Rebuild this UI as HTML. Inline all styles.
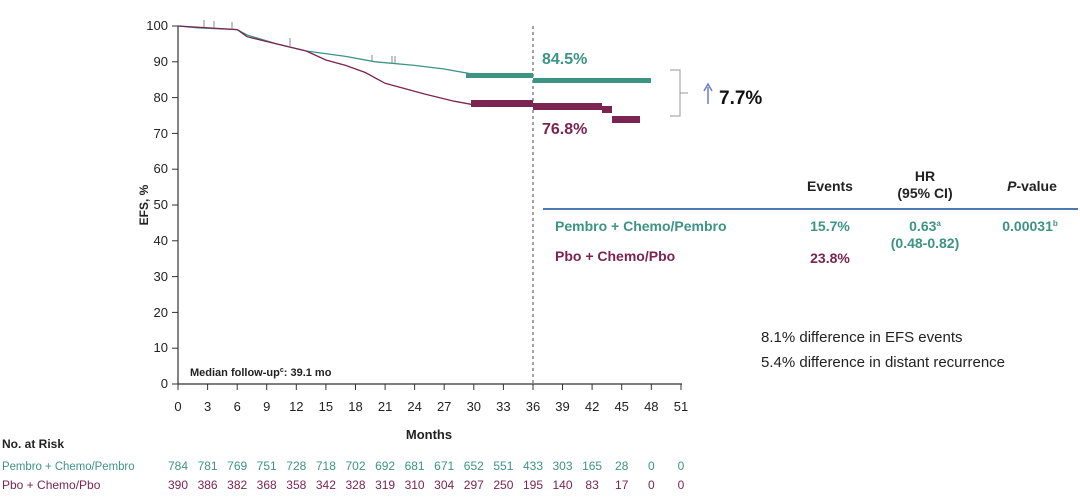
<!DOCTYPE html>
<html><head><meta charset="utf-8"><style>
body{margin:0;background:#fff;}
svg{display:block;font-family:"Liberation Sans",Arial,sans-serif;}
</style></head><body>
<svg width="1080" height="498" viewBox="0 0 1080 498">
<g stroke="#333" stroke-width="1.2" fill="none">
<line x1="178" y1="26" x2="178" y2="384"/>
<line x1="178" y1="384" x2="682" y2="384"/>
</g>
<g stroke="#333" stroke-width="1">
<line x1="172" y1="26" x2="178" y2="26"/><line x1="172" y1="61.8" x2="178" y2="61.8"/><line x1="172" y1="97.6" x2="178" y2="97.6"/><line x1="172" y1="133.4" x2="178" y2="133.4"/><line x1="172" y1="169.2" x2="178" y2="169.2"/><line x1="172" y1="205" x2="178" y2="205"/><line x1="172" y1="240.8" x2="178" y2="240.8"/><line x1="172" y1="276.6" x2="178" y2="276.6"/><line x1="172" y1="312.4" x2="178" y2="312.4"/><line x1="172" y1="348.2" x2="178" y2="348.2"/><line x1="172" y1="384" x2="178" y2="384"/>
</g>
<g font-size="13" fill="#222" text-anchor="end">
<text x="168" y="30">100</text><text x="168" y="66">90</text><text x="168" y="102">80</text><text x="168" y="138">70</text><text x="168" y="173">60</text><text x="168" y="209">50</text><text x="168" y="245">40</text><text x="168" y="281">30</text><text x="168" y="317">20</text><text x="168" y="352">10</text><text x="168" y="388">0</text>
</g>
<g stroke="#333" stroke-width="1">
<line x1="178" y1="384" x2="178" y2="390"/><line x1="207.6" y1="384" x2="207.6" y2="390"/><line x1="237.2" y1="384" x2="237.2" y2="390"/><line x1="266.7" y1="384" x2="266.7" y2="390"/><line x1="296.3" y1="384" x2="296.3" y2="390"/><line x1="325.9" y1="384" x2="325.9" y2="390"/><line x1="355.5" y1="384" x2="355.5" y2="390"/><line x1="385.1" y1="384" x2="385.1" y2="390"/><line x1="414.6" y1="384" x2="414.6" y2="390"/><line x1="444.2" y1="384" x2="444.2" y2="390"/><line x1="473.8" y1="384" x2="473.8" y2="390"/><line x1="503.4" y1="384" x2="503.4" y2="390"/><line x1="533" y1="384" x2="533" y2="390"/><line x1="562.5" y1="384" x2="562.5" y2="390"/><line x1="592.1" y1="384" x2="592.1" y2="390"/><line x1="621.7" y1="384" x2="621.7" y2="390"/><line x1="651.3" y1="384" x2="651.3" y2="390"/><line x1="681" y1="384" x2="681" y2="390"/>
</g>
<g font-size="13" fill="#222" text-anchor="middle">
<text x="178" y="411">0</text><text x="207.6" y="411">3</text><text x="237.2" y="411">6</text><text x="266.7" y="411">9</text><text x="296.3" y="411">12</text><text x="325.9" y="411">15</text><text x="355.5" y="411">18</text><text x="385.1" y="411">21</text><text x="414.6" y="411">24</text><text x="444.2" y="411">27</text><text x="473.8" y="411">30</text><text x="503.4" y="411">33</text><text x="533" y="411">36</text><text x="562.5" y="411">39</text><text x="592.1" y="411">42</text><text x="621.7" y="411">45</text><text x="651.3" y="411">48</text><text x="681" y="411">51</text>
</g>
<text x="429" y="439" font-size="13" font-weight="bold" text-anchor="middle" fill="#222">Months</text>
<text transform="translate(148,205) rotate(-90)" font-size="12" font-weight="bold" text-anchor="middle" fill="#222">EFS, %</text>
<text x="190" y="376" font-size="11" font-weight="bold" fill="#222">Median follow-up<tspan font-size="7" dy="-4">c</tspan><tspan dy="4">: 39.1 mo</tspan></text>
<line x1="533" y1="26" x2="533" y2="384" stroke="#666" stroke-width="1.2" stroke-dasharray="3,3"/>
<polyline fill="none" stroke="#3d9484" stroke-width="1.3" points="178,26 197.7,27.8 237.2,29.6 247,35 276.6,43.9 306.2,51 345.6,56.4 375.2,61.8 414.6,65.4 444.2,69 473.8,74.3"/>
<polyline fill="none" stroke="#7b2452" stroke-width="1.3" points="178,26 237.2,29.6 247,36.7 276.6,43.9 306.2,51 325.9,60 345.6,65.4 365.3,72.5 385.1,83.3 404.8,88.6 424.5,94 454.1,101.2 473.8,104.8"/>
<g fill="#3d9484"><rect x="466" y="73" width="67" height="5"/><rect x="533" y="78" width="118" height="5"/></g>
<g fill="#7b2452"><rect x="471" y="100" width="62" height="7"/><rect x="533" y="103" width="69" height="7"/><rect x="602" y="106" width="10" height="7"/><rect x="612" y="116" width="28" height="7"/></g>
<g stroke="#888" stroke-width="1"><line x1="204" y1="20" x2="204" y2="27"/><line x1="214" y1="21" x2="214" y2="28"/><line x1="232" y1="22" x2="232" y2="29"/><line x1="290" y1="38" x2="290" y2="46"/><line x1="372" y1="55" x2="372" y2="62"/><line x1="392" y1="56" x2="392" y2="63"/><line x1="395" y1="56" x2="395" y2="63"/></g>
<text x="542" y="64" font-size="16" font-weight="bold" fill="#3d9484">84.5%</text>
<text x="542" y="134" font-size="16" font-weight="bold" fill="#7b2452">76.8%</text>
<path d="M670,70 H680 V116 H670 M680,93 H688" fill="none" stroke="#999" stroke-width="1"/>
<line x1="708" y1="104" x2="708" y2="87" stroke="#6b7fc0" stroke-width="1.5"/><path d="M704,91 L708,84 L712,91" fill="none" stroke="#6b7fc0" stroke-width="1.5"/>
<text x="719" y="104" font-size="19" font-weight="bold" fill="#111">7.7%</text>
<g font-size="14" font-weight="bold" fill="#222" text-anchor="middle">
<text x="830" y="191">Events</text><text x="925" y="181">HR</text><text x="925" y="198">(95% CI)</text><text x="1032" y="191"><tspan font-style="italic">P</tspan>-value</text>
</g>
<line x1="543" y1="209" x2="1078" y2="209" stroke="#4a7ab0" stroke-width="2"/>
<g font-size="14" font-weight="bold" fill="#3d9484">
<text x="555" y="231">Pembro + Chemo/Pembro</text><text x="830" y="231" text-anchor="middle">15.7%</text>
<text x="925" y="231" text-anchor="middle">0.63<tspan font-size="8" dy="-5">a</tspan></text>
<text x="925" y="248" text-anchor="middle">(0.48-0.82)</text>
<text x="1030" y="231" text-anchor="middle">0.00031<tspan font-size="8" dy="-5">b</tspan></text>
</g>
<g font-size="14" font-weight="bold" fill="#7b2452">
<text x="555" y="261">Pbo + Chemo/Pbo</text><text x="830" y="263" text-anchor="middle">23.8%</text>
</g>
<g font-size="15" fill="#222"><text x="761" y="342">8.1% difference in EFS events</text><text x="761" y="367">5.4% difference in distant recurrence</text></g>
<text x="2" y="448" font-size="12" font-weight="bold" fill="#222">No. at Risk</text>
<g font-size="12" fill="#3d9484"><text x="2" y="470" transform="translate(2,0) scale(0.95,1) translate(-2,0)">Pembro + Chemo/Pembro</text>
<g text-anchor="middle"><text x="178" y="470">784</text><text x="207.6" y="470">781</text><text x="237.2" y="470">769</text><text x="266.7" y="470">751</text><text x="296.3" y="470">728</text><text x="325.9" y="470">718</text><text x="355.5" y="470">702</text><text x="385.1" y="470">692</text><text x="414.6" y="470">681</text><text x="444.2" y="470">671</text><text x="473.8" y="470">652</text><text x="503.4" y="470">551</text><text x="533" y="470">433</text><text x="562.5" y="470">303</text><text x="592.1" y="470">165</text><text x="621.7" y="470">28</text><text x="651.3" y="470">0</text><text x="681" y="470">0</text></g></g>
<g font-size="12" fill="#7b2452"><text x="2" y="489">Pbo + Chemo/Pbo</text>
<g text-anchor="middle"><text x="178" y="489">390</text><text x="207.6" y="489">386</text><text x="237.2" y="489">382</text><text x="266.7" y="489">368</text><text x="296.3" y="489">358</text><text x="325.9" y="489">342</text><text x="355.5" y="489">328</text><text x="385.1" y="489">319</text><text x="414.6" y="489">310</text><text x="444.2" y="489">304</text><text x="473.8" y="489">297</text><text x="503.4" y="489">250</text><text x="533" y="489">195</text><text x="562.5" y="489">140</text><text x="592.1" y="489">83</text><text x="621.7" y="489">17</text><text x="651.3" y="489">0</text><text x="681" y="489">0</text></g></g>
</svg>
</body></html>
